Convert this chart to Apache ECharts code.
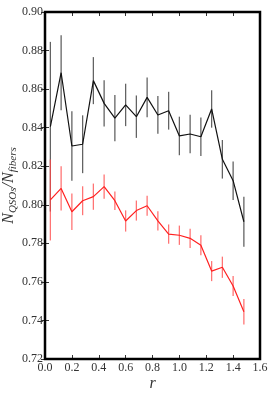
<!DOCTYPE html>
<html>
<head>
<meta charset="utf-8">
<script src="https://cdn.jsdelivr.net/npm/echarts@6/dist/echarts.min.js"></script>
<style>html,body{margin:0;padding:0;background:#fff;}#c{width:273px;height:394px;}</style>
</head>
<body>
<div id="c"></div>
<script>
var r = [0.04, 0.12, 0.20, 0.28, 0.36, 0.44, 0.52, 0.60, 0.68, 0.76, 0.84, 0.92, 1.00, 1.08, 1.16, 1.24, 1.32, 1.40, 1.48];
var blackVals = [0.8405, 0.8685, 0.8305, 0.8314, 0.8644, 0.8526, 0.8449, 0.8518, 0.8457, 0.8557, 0.8466, 0.8488, 0.8357, 0.8367, 0.8353, 0.8497, 0.8236, 0.8125, 0.7912];
var blackErr = [0.044, 0.0195, 0.018, 0.015, 0.0122, 0.012, 0.012, 0.011, 0.011, 0.0103, 0.0098, 0.0098, 0.010, 0.010, 0.010, 0.0097, 0.010, 0.010, 0.013];
var redVals = [0.8025, 0.8085, 0.7964, 0.8021, 0.8042, 0.8094, 0.8021, 0.7916, 0.7970, 0.7995, 0.7917, 0.7848, 0.7842, 0.7826, 0.7790, 0.7656, 0.7676, 0.7579, 0.7445];
var redErr = [0.021, 0.0115, 0.0095, 0.0075, 0.0068, 0.0063, 0.0048, 0.0055, 0.0052, 0.0052, 0.0050, 0.0050, 0.0050, 0.0050, 0.0052, 0.0052, 0.0055, 0.0052, 0.0066];
var xTicks = [0.0, 0.2, 0.4, 0.6, 0.8, 1.0, 1.2, 1.4, 1.6];
var yTicks = [0.72, 0.74, 0.76, 0.78, 0.80, 0.82, 0.84, 0.86, 0.88, 0.90];

var serif = '"Liberation Serif", "DejaVu Serif", serif';
function pairs(xs, ys) { return xs.map(function (x, i) { return [x, ys[i]]; }); }
function errData(xs, ys, es) { return xs.map(function (x, i) { return [x, ys[i] - es[i], ys[i] + es[i]]; }); }
function errSeries(data, color) {
  return {
    type: 'custom', data: data, z: 2,
    renderItem: function (params, api) {
      var a = api.coord([api.value(0), api.value(1)]);
      var b = api.coord([api.value(0), api.value(2)]);
      return { type: 'line', shape: { x1: a[0], y1: a[1], x2: b[0], y2: b[1] },
        style: { stroke: color, lineWidth: 1.3 } };
    }
  };
}
var chart = echarts.init(document.getElementById('c'));
var axLabel = { fontFamily: serif, fontSize: 12, color: '#333' };
chart.setOption({
  animation: false,
  grid: { left: 45, right: 13, top: 12, bottom: 35, containLabel: false, outerBoundsMode: 'none',
    show: true, borderColor: '#000', borderWidth: 2.5, backgroundColor: 'transparent' },
  xAxis: [{
    type: 'value', min: xTicks[0], max: xTicks[xTicks.length - 1], interval: 0.2,
    axisLine: { show: false }, splitLine: { show: false },
    axisTick: { inside: true, length: 4, lineStyle: { color: '#000', width: 0.8 } },
    axisLabel: Object.assign({ margin: 3, formatter: function (v) { return v.toFixed(1); } }, axLabel),
    name: 'r', nameLocation: 'middle', nameGap: 17, nameMoveOverlap: false,
    nameTextStyle: { fontFamily: serif, fontStyle: 'italic', fontSize: 16, color: '#333' }
  }, {
    type: 'value', position: 'top', min: xTicks[0], max: xTicks[xTicks.length - 1], interval: 0.2,
    axisLine: { show: false }, splitLine: { show: false }, axisLabel: { show: false },
    axisTick: { inside: true, length: 4, lineStyle: { color: '#000', width: 0.8 } }
  }],
  yAxis: [{
    type: 'value', min: yTicks[0], max: yTicks[yTicks.length - 1], interval: 0.02,
    axisLine: { show: false }, splitLine: { show: false },
    axisTick: { inside: true, length: 4, lineStyle: { color: '#000', width: 0.8 } },
    axisLabel: Object.assign({ margin: 2, formatter: function (v) { return v.toFixed(2); } }, axLabel),
    name: '{i|N}{s|QSOs}{i|/N}{s|fibers}', nameLocation: 'middle', nameGap: 26, nameRotate: 90,
    nameMoveOverlap: false,
    nameTextStyle: {
      color: '#333',
      rich: {
        i: { fontFamily: serif, fontStyle: 'italic', fontSize: 16, lineHeight: 20, verticalAlign: 'middle', color: '#333' },
        s: { fontFamily: serif, fontStyle: 'italic', fontSize: 11, lineHeight: 11, verticalAlign: 'bottom', color: '#333' }
      }
    }
  }, {
    type: 'value', position: 'right', min: yTicks[0], max: yTicks[yTicks.length - 1], interval: 0.02,
    axisLine: { show: false }, splitLine: { show: false }, axisLabel: { show: false },
    axisTick: { inside: true, length: 4, lineStyle: { color: '#000', width: 0.8 } }
  }],
  series: [
    errSeries(errData(r, blackVals, blackErr), 'rgba(60,60,60,0.8)'),
    errSeries(errData(r, redVals, redErr), 'rgba(255,70,70,0.75)'),
    { type: 'line', data: pairs(r, blackVals), showSymbol: false, symbol: 'none', z: 3,
      lineStyle: { color: '#111', width: 1.2 } },
    { type: 'line', data: pairs(r, redVals), showSymbol: false, symbol: 'none', z: 3,
      lineStyle: { color: '#ff2020', width: 1.2 } }
  ]
});
</script>
</body>
</html>
